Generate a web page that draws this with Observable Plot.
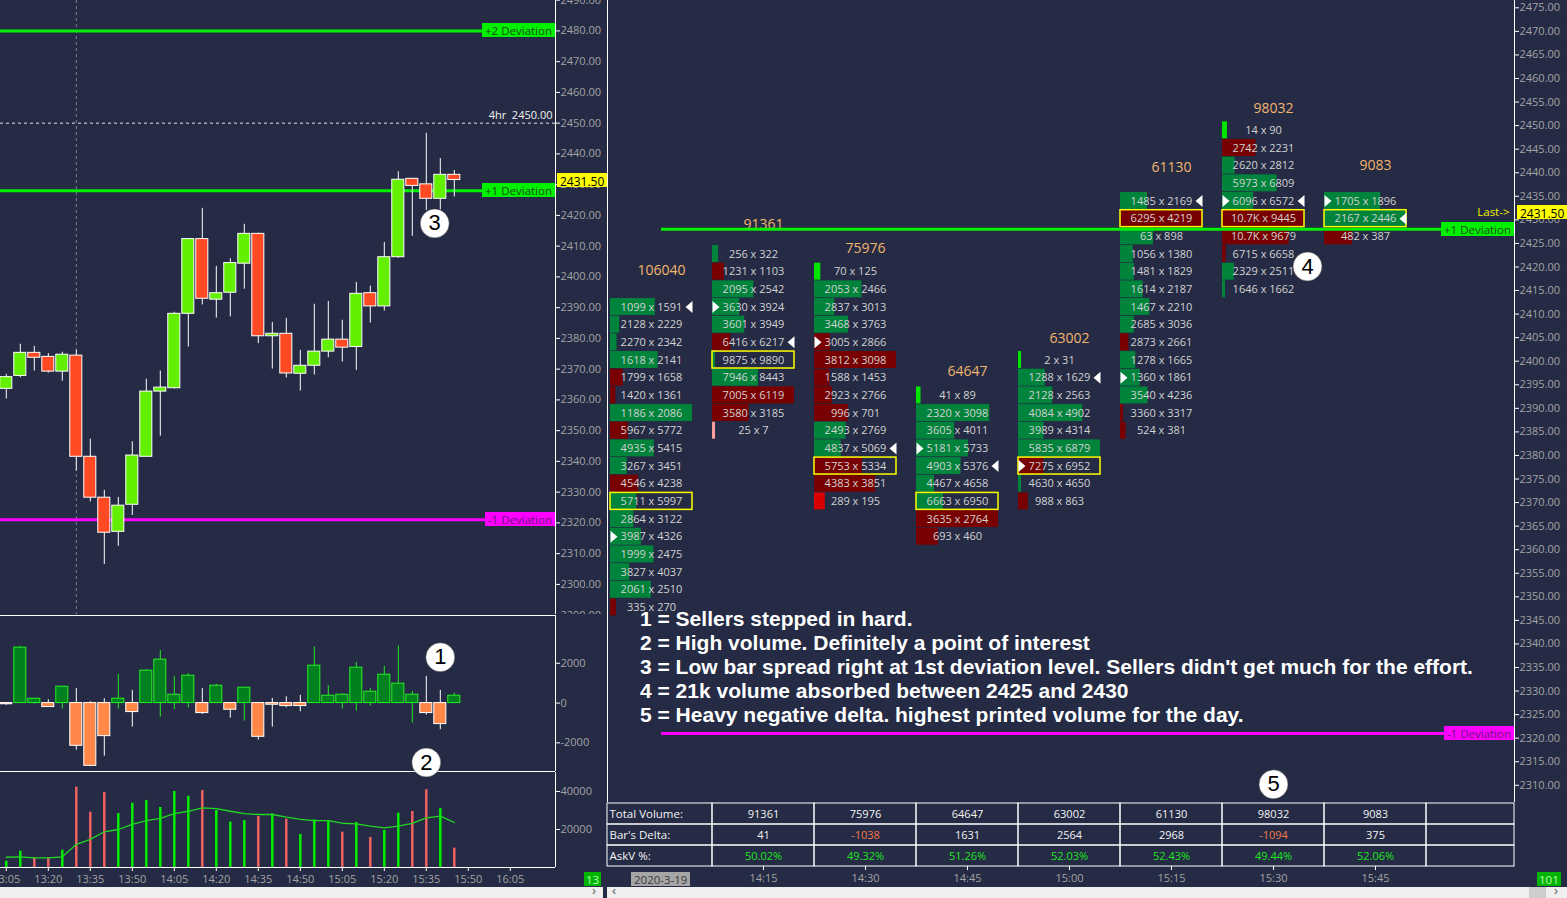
<!DOCTYPE html>
<html><head><meta charset="utf-8">
<script src="https://cdn.jsdelivr.net/npm/d3@7"></script>
<script src="https://cdn.jsdelivr.net/npm/@observablehq/plot@0.6"></script>
<style>
html,body{margin:0;padding:0;background:#252b45;overflow:hidden;}
#root{position:relative;width:1567px;height:898px;background:#252b45;overflow:hidden;font-family:"Open Sans","DejaVu Sans",sans-serif;}
#root svg{position:absolute;}
.notes{position:absolute;left:640px;top:607px;color:#fff;font:bold 21px "Liberation Sans",Arial,sans-serif;line-height:24px;white-space:pre;}
.strip{position:absolute;left:0;top:887px;width:1567px;height:11px;background:#efefef;}
</style></head>
<body><div id="root"></div>
<script>
// ---------------- DATA ----------------
// 5-minute candles (left panel)
const times = ["13:05","13:10","13:15","13:20","13:25","13:30","13:35","13:40","13:45","13:50","13:55","14:00","14:05","14:10","14:15","14:20","14:25","14:30","14:35","14:40","14:45","14:50","14:55","15:00","15:05","15:10","15:15","15:20","15:25","15:30","15:35","15:40","15:45"];
const opens  = [2363.6,2367.8,2375.3,2374.0,2369.2,2374.4,2341.5,2328.2,2317.1,2325.9,2341.5,2362.7,2363.8,2388.0,2412.3,2392.6,2394.85,2404.3,2414.0,2380.7,2381.5,2368.5,2371.1,2375.7,2379.6,2377.2,2394.7,2390.4,2406.4,2431.9,2430.1,2425.4,2433.2];
const highs  = [2368.3,2378.1,2377.4,2375.1,2375.5,2376.1,2347.2,2330.6,2328.3,2346.4,2366.7,2369.4,2388.5,2412.5,2422.3,2403.4,2405.9,2417.1,2414.2,2385.2,2386.5,2376.1,2391.1,2392.0,2385.9,2398.2,2397.0,2411.2,2434.2,2432.0,2446.7,2438.5,2434.6];
const lows   = [2360.3,2367.2,2369.4,2368.7,2366.1,2336.9,2326.8,2306.5,2312.4,2322.4,2341.5,2348.2,2363.5,2377.2,2390.9,2386.6,2387.0,2396.0,2378.3,2370.0,2367.1,2362.9,2368.1,2373.7,2372.3,2369.6,2385.0,2388.9,2406.1,2413.2,2421.6,2421.8,2426.0];
const closes = [2367.4,2375.3,2373.7,2369.2,2374.7,2341.5,2328.2,2316.8,2325.6,2341.9,2362.7,2364.0,2388.0,2412.3,2392.9,2394.7,2404.5,2414.0,2380.7,2381.5,2368.6,2371.1,2375.7,2379.6,2377.0,2394.5,2390.4,2406.4,2431.6,2429.6,2425.4,2433.2,2431.5];
// delta candles
const deltaClose = [-60,2787,218,-201,823,-2149,-3157,-1662,218,-453,1629,2183,420,1377,-504,873,-336,772,-1696,-84,-151,-151,1880,369,420,1780,571,1427,974,420,-504,-1058,369];
const deltaHigh  = [0,2854,218,168,823,739,67,218,1444,638,1679,2636,1343,1477,739,940,0,772,0,235,319,386,2821,873,470,2048,739,1847,2871,588,1343,638,504];
const deltaLow   = [-118,-34,-50,-201,-302,-2367,-3157,-2670,-302,-1209,0,-705,-336,-235,-571,0,-756,-907,-1864,-1209,-235,-437,0,0,-302,-403,-151,0,0,-1007,-604,-1343,0];
// volume + average
const volumes   = [3300,8600,5100,5100,9100,42300,29100,39500,28400,33800,35300,31600,40000,37500,40500,30000,23900,24700,26800,28200,25400,17400,25100,24400,18600,23700,15800,19500,28600,29500,41000,31000,10200];
const volumeAvg = [5400,5600,5100,5100,5600,12200,14800,18800,20000,22700,24700,25800,28400,29600,31400,31000,29600,28400,27900,27900,26500,25300,24700,24700,23300,23000,21800,20900,21800,23200,26100,27000,23700];

const sessionStart = "13:30";
const fourHourLevel = 2450;
const lastPrice = 2431.5;
const devLabels = ["+2 Deviation","+1 Deviation","-1 Deviation"];
const devPrices = [2480, 2428, 2321];

// 15-minute footprint (right panel)
const fpTimes   = ["14:00","14:15","14:30","14:45","15:00","15:15","15:30","15:45"];
const fpTotals  = [106040,91361,75976,64647,63002,61130,98032,9083];
const fpHighs   = [2415.0,2424.75,2419.7,2393.6,2400.6,2436.9,2449.4,2437.3];
const fpTopRow  = [2411.5,2422.75,2419,2392.75,2400.25,2434,2449,2434];
const fpRowStep = 3.75;
const fpRows = [
  [[1099,1591],[2128,2229],[2270,2342],[1618,2141],[1799,1658],[1420,1361],[1186,2086],[5967,5772],[4935,5415],[3267,3451],[4546,4238],[5711,5997],[2864,3122],[3987,4326],[1999,2475],[3827,4037],[2061,2510],[335,270]],
  [[256,322],[1231,1103],[2095,2542],[3630,3924],[3601,3949],[6416,6217],[9875,9890],[7946,8443],[7005,6119],[3580,3185],[25,7]],
  [[70,125],[2053,2466],[2837,3013],[3468,3763],[3005,2866],[3812,3098],[1588,1453],[2923,2766],[996,701],[2493,2769],[4837,5069],[5753,5334],[4383,3851],[289,195]],
  [[41,89],[2320,3098],[3605,4011],[5181,5733],[4903,5376],[4467,4658],[6663,6950],[3635,2764],[693,460]],
  [[2,31],[1288,1629],[2128,2563],[4084,4902],[3989,4314],[5835,6879],[7275,6952],[4630,4650],[988,863]],
  [[1485,2169],[6295,4219],[63,898],[1056,1380],[1481,1829],[1614,2187],[1467,2210],[2685,3036],[2873,2661],[1278,1665],[1360,1861],[3540,4236],[3360,3317],[524,381]],
  [[14,90],[2742,2231],[2620,2812],[5973,6809],[6096,6572],[10700,9445],[10700,9679],[6715,6658],[2329,2511],[1646,1662]],
  [[1705,1896],[2167,2446],[482,387]]
];
const fpPOC       = [11,6,11,6,6,1,5,1];
const fpMarkRight = [13,3,4,3,6,10,4,0];  // ▶ before the row
const fpMarkLeft  = [0,5,10,4,1,0,4,1];   // ◀ after the row

// table under the footprint
const tableLabels = ["Total Volume:","Bar's Delta:","AskV %:"];
const tableTimes  = ["14:15","14:30","14:45","15:00","15:15","15:30","15:45"];
const tableVolume = [91361,75976,64647,63002,61130,98032,9083];
const tableDelta  = [41,-1038,1631,2564,2968,-1094,375];
const tableAskPct = [50.02,49.32,51.26,52.03,52.43,49.44,52.06];
const sessionDate = "2020-3-19";

// numbered callouts
const annLabels = ["1","2","3","4","5"];
const annPanels = ["delta","delta","price","footprint","footprint"];
const annTimes  = ["15:40","15:35","15:38","15:35","15:30"];
const annValues = [2302,-2987,2417.4,2420.1,2310.2];

const notes = [
  "1 = Sellers stepped in hard.",
  "2 = High volume. Definitely a point of interest",
  "3 = Low bar spread right at 1st deviation level. Sellers didn't get much for the effort.",
  "4 = 21k volume absorbed between 2425 and 2430",
  "5 = Heavy negative delta. highest printed volume for the day."
];

// ---------------- STYLE ----------------
const FONT = "'Open Sans','DejaVu Sans',sans-serif";
const TXT = "#a3a3a3";
const UP = "#62f000", DOWN = "#ff4a24";
const devColors = ["#00f000","#00f000","#ff00ff"];
const devText = ["#1d4a1d","#1d4a1d","#6b1577"];
const root = document.getElementById("root");

const toMin = s => { const [h, m] = s.split(":").map(Number); return h * 60 + m; };
const fmtMin = m => `${Math.floor(m / 60)}:${String(m % 60).padStart(2, "0")}`;
const X_LEFT = [782.93, 981.14];
const X_RIGHT = [832.06, 965.44];

function mk(opts) {
  return Plot.plot({
    style: {background: "transparent", color: TXT, fontFamily: FONT, fontSize: "11px"},
    color: {type: "identity"},
    ...opts
  });
}
function place(svg, left, top) { svg.style.left = left + "px"; svg.style.top = top + "px"; root.appendChild(svg); return svg; }
function tag(text, x, yc, bg, fg, anchor, font) {
  const el = document.createElement("div");
  el.textContent = text;
  Object.assign(el.style, {position: "absolute", top: (yc - 7) + "px", height: "14px", lineHeight: "14px",
    padding: "0 3px", background: bg, color: fg, font: font || `11.5px ${FONT}`, whiteSpace: "nowrap"});
  if (anchor === "right") el.style.right = (1567 - x) + "px"; else el.style.left = x + "px";
  root.appendChild(el);
  return el;
}
const ann = annLabels.map((n, i) => ({n, panel: annPanels[i], t: toMin(annTimes[i]), v: annValues[i]}));
const annMarks = panel => [
  Plot.dot(ann.filter(d => d.panel === panel), {x: "t", y: "v", r: 14.5, fill: "white", stroke: "#333", strokeWidth: 0.5}),
  Plot.text(ann.filter(d => d.panel === panel), {x: "t", y: "v", text: "n", fill: "black", fontSize: 22, fontFamily: "'Liberation Sans',Arial"})
];

// ---------------- PRICE PANEL ----------------
const candles = times.map((t, i) => ({t: toMin(t), o: opens[i], h: highs[i], l: lows[i], c: closes[i], up: closes[i] >= opens[i]}));
const pricePlot = place(mk({
  width: 606, height: 614, marginLeft: 0, marginRight: 51, marginTop: 0, marginBottom: 0,
  x: {domain: X_LEFT, axis: null},
  y: {domain: [2290.21, 2489.89], label: null},
  marks: [
    Plot.ruleX([toMin(sessionStart)], {x: d => d, stroke: "#80848e", strokeDasharray: "3,3"}),
    Plot.ruleY([fourHourLevel], {y: d => d, stroke: "#e6e6e6", strokeDasharray: "3,3"}),
    Plot.text([fourHourLevel], {y: d => d, frameAnchor: "right", textAnchor: "end", dx: -3, dy: -8, text: d => `4hr  ${d.toFixed(2)}`, fill: "#f2f2f2", fontSize: 11}),
    ...devPrices.map((p, i) => Plot.ruleY([p], {y: d => d, stroke: devColors[i], strokeWidth: 3})),
    Plot.ruleX(candles, {x: "t", y1: "l", y2: "h", stroke: "white"}),
    Plot.rect(candles, {x1: d => d.t - 2.15, x2: d => d.t + 2.15, y1: "o", y2: "c", fill: d => d.up ? UP : DOWN, stroke: "white"}),
    Plot.axisY(d3.range(2290, 2491, 10), {anchor: "right", tickSize: 4, tickPadding: 1, tickFormat: d => d.toFixed(2), stroke: "white", fill: TXT, label: null}),
    Plot.ruleX([X_LEFT[1]], {x: d => d, stroke: "white"}),
    ...annMarks("price")
  ]
}), 0, 0);

// ---------------- DELTA PANEL ----------------
const deltas = times.map((t, i) => ({t: toMin(t), c: deltaClose[i], h: deltaHigh[i], l: deltaLow[i]}));
const DY = [-3441, 4403];
const deltaPlot = place(mk({
  width: 606, height: 158, marginLeft: 0, marginRight: 51, marginTop: 1, marginBottom: 1,
  x: {domain: X_LEFT, axis: null},
  y: {domain: DY, label: null},
  marks: [
    Plot.ruleY(DY, {y: d => d, stroke: "white"}),
    Plot.ruleX(deltas, {x: "t", y1: "l", y2: "h", stroke: d => d.c >= 0 ? "#22e822" : "white"}),
    Plot.rect(deltas, {x1: d => d.t - 2.15, x2: d => d.t + 2.15, y1: 0, y2: "c", fill: d => d.c >= 0 ? "#00801e" : "#ff8848", stroke: d => d.c >= 0 ? "#22f022" : "white"}),
    Plot.axisY([-2000, 0, 2000], {anchor: "right", tickSize: 4, tickPadding: 1, tickFormat: d => String(d), stroke: "white", fill: TXT, label: null}),
    Plot.ruleX([X_LEFT[1]], {x: d => d, stroke: "white"}),
    ...annMarks("delta")
  ]
}), 0, 614);

// ---------------- VOLUME PANEL ----------------
const vols = times.map((t, i) => ({t: toMin(t), v: volumes[i], avg: volumeAvg[i], up: closes[i] >= opens[i]}));
place(mk({
  width: 606, height: 119, marginLeft: 0, marginRight: 51, marginTop: 1, marginBottom: 23,
  x: {domain: X_LEFT, label: null},
  y: {domain: [0, 50000], label: null},
  marks: [
    Plot.ruleX(vols, {x: "t", y1: 0, y2: "v", stroke: d => d.up ? "#00ee00" : "#f06060", strokeWidth: 2.5}),
    Plot.line(vols, {x: "t", y: "avg", stroke: "#22d822", strokeWidth: 1.3}),
    Plot.ruleY([0], {y: d => d, stroke: "white"}),
    Plot.ruleX([X_LEFT[1]], {x: d => d, stroke: "white"}),
    Plot.axisY([20000, 40000], {anchor: "right", tickSize: 4, tickPadding: 1, tickFormat: d => String(d), stroke: "white", fill: TXT, label: null}),
    Plot.axisX(d3.range(785, 966, 15), {anchor: "bottom", tickSize: 4, tickPadding: 4, tickFormat: fmtMin, stroke: "white", fill: TXT, label: null})
  ]
}), 0, 771);
// the delta panel's callout straddles the separator, as in the reference
root.appendChild(deltaPlot);
deltaPlot.style.overflow = "visible";

// ---------------- FOOTPRINT PANEL ----------------
const cellW = 82 / 6.8;       // max cell length in minutes of x scale
const cells = [];
fpRows.forEach((rows, c) => {
  const t = toMin(fpTimes[c]);
  const maxD = d3.max(rows, r => Math.abs(r[1] - r[0]));
  rows.forEach((r, k) => {
    cells.push({t, left: t - 7.5, price: fpTopRow[c] - k * fpRowStep, bid: r[0], ask: r[1],
      frac: Math.abs(r[1] - r[0]) / maxD, poc: fpPOC[c] === k, mr: fpMarkRight[c] === k, ml: fpMarkLeft[c] === k});
  });
});
const fmtV = v => v >= 10000 ? (v / 1000).toFixed(1) + "K" : String(v);
function cellColor(d) {
  const tot = d.bid + d.ask;
  if (d.ask >= d.bid) return tot < 200 ? "#00e400" : "#00843c";
  if (tot < 100) return "#ff9c9c";
  if (tot < 500) return "#d80000";
  return "#780000";
}
const triR = {draw(ctx) { ctx.moveTo(0, -6); ctx.lineTo(7, 0); ctx.lineTo(0, 6); ctx.closePath(); }};
const triL = {draw(ctx) { ctx.moveTo(0, -6); ctx.lineTo(-7, 0); ctx.lineTo(0, 6); ctx.closePath(); }};
const cols = fpTimes.map((t, i) => ({t: toMin(t), total: fpTotals[i], high: fpHighs[i]}));
const fpPlot = place(mk({
  width: 961, height: 802, marginLeft: 1, marginRight: 53, marginTop: 0, marginBottom: 0,
  x: {domain: X_RIGHT, axis: null},
  y: {domain: [2306.35, 2476.55], label: null},
  marks: [
    Plot.ruleX(X_RIGHT, {x: d => d, stroke: "white"}),
    Plot.rect(cells, {x1: "left", x2: d => d.left + Math.max(d.frac * cellW, 0.45), y1: d => d.price - 1.8, y2: d => d.price + 1.8, fill: cellColor}),
    Plot.rect(cells.filter(d => d.poc), {x1: "left", x2: d => d.left + cellW, y1: d => d.price - 1.8, y2: d => d.price + 1.8, fill: "none", stroke: "#ffff00", strokeWidth: 1.5}),
    Plot.text(cells, {x: d => d.left + cellW / 2, y: "price", text: d => `${fmtV(d.bid)} x ${fmtV(d.ask)}`, fill: "#d2d2d2", fontSize: 11}),
    Plot.dot(cells.filter(d => d.mr), {x: "left", y: "price", symbol: triR, fill: "white"}),
    Plot.dot(cells.filter(d => d.ml), {x: d => d.left + cellW, y: "price", symbol: triL, fill: "white"}),
    Plot.text(cols, {x: "t", y: "high", text: d => String(d.total), dy: -20, fill: "#f2b56c", fontSize: 14}),
    ...devPrices.map((p, i) => Plot.ruleY([p], {y: d => d, x1: toMin(fpTimes[0]), x2: X_RIGHT[1], stroke: devColors[i], strokeWidth: 3})),
    Plot.text([lastPrice], {y: d => d, frameAnchor: "right", textAnchor: "end", dx: -5, text: () => "Last->", fill: "#f2f200", fontSize: 11.5}),
    Plot.axisY(d3.range(2310, 2476, 5), {anchor: "right", tickSize: 4, tickPadding: 1, tickFormat: d => d.toFixed(2), stroke: "white", fill: TXT, label: null}),
    ...annMarks("footprint")
  ]
}), 606, 0);

// ---------------- TABLE ----------------
const edges = [X_RIGHT[0], ...tableTimes.map(t => toMin(t) - 7.5), toMin(tableTimes[tableTimes.length - 1]) + 7.5, X_RIGHT[1]];
const grid = [];
tableLabels.forEach(row => { for (let i = 0; i < edges.length - 1; i++) grid.push({row, x1: edges[i], x2: edges[i + 1]}); });
const tcells = [];
tableTimes.forEach((t, i) => {
  const x = toMin(t);
  tcells.push({t: x, row: tableLabels[0], text: String(tableVolume[i]), fill: "#f4f4f4"});
  tcells.push({t: x, row: tableLabels[1], text: String(tableDelta[i]), fill: tableDelta[i] < 0 ? "#f4774a" : "#f4f4f4"});
  tcells.push({t: x, row: tableLabels[2], text: tableAskPct[i].toFixed(2) + "%", fill: "#1ee61e"});
});
const tablePlot = place(mk({
  width: 961, height: 88, marginLeft: 1, marginRight: 53, marginTop: 0, marginBottom: 24,
  x: {domain: X_RIGHT, label: null},
  y: {domain: tableLabels, padding: 0, axis: null},
  marks: [
    Plot.barX(grid, {x1: "x1", x2: "x2", y: "row", fill: "none", stroke: "white"}),
    Plot.text(tableLabels, {x: X_RIGHT[0], y: d => d, text: d => d, textAnchor: "start", dx: 2, fill: "#f4f4f4", fontSize: 11.5}),
    Plot.text(tcells, {x: "t", y: "row", text: "text", fill: "fill", fontSize: 11}),
    Plot.axisX(tableTimes.map(toMin), {anchor: "bottom", tickSize: 4, tickPadding: 4, tickFormat: fmtMin, stroke: "white", fill: TXT, label: null})
  ]
}), 606, 802);

// ---------------- TAGS / OVERLAYS ----------------
const yP = pricePlot.scale("y"), yF = fpPlot.scale("y"), xT = tablePlot.scale("x");
devPrices.forEach((p, i) => tag(devLabels[i], 555, yP.apply(p), devColors[i], devText[i], "right"));
devPrices.forEach((p, i) => { const y = yF.apply(p); if (y > 0 && y < 802) tag(devLabels[i], 1514, y, devColors[i], devText[i], "right"); });
tag(lastPrice.toFixed(2), 557, yP.apply(lastPrice), "#ffff00", "#000", "left", `12px ${FONT}`);
tag(lastPrice.toFixed(2), 1517, yF.apply(lastPrice), "#ffff00", "#000", "left", `12px ${FONT}`);
const dt = tag(sessionDate, 0, 879, "#a5a5a5", "#3a3a3a", "left", `11.5px ${FONT}`);
dt.style.left = (606 + xT.apply(toMin(fpTimes[0])) - 30) + "px";
tag("13", 584, 879, "#00b400", "#b8ffb8", "left", `11.5px ${FONT}`).style.padding = "0 2px";
tag("101", 1537, 879, "#00b400", "#b8ffb8", "left", `11.5px ${FONT}`).style.padding = "0 2px";

const nt = document.createElement("div");
nt.className = "notes";
nt.textContent = notes.join("\n");
root.appendChild(nt);

const strip = document.createElement("div");
strip.className = "strip";
strip.innerHTML = '<span style="position:absolute;left:592px;top:-3px;font:12px sans-serif;color:#555">›</span>' +
  '<span style="position:absolute;left:603px;top:0;width:4px;height:11px;background:#252b45"></span>' +
  '<span style="position:absolute;left:612px;top:-3px;font:12px sans-serif;color:#555">‹</span>' +
  '<span style="position:absolute;left:1529px;top:0;width:17px;height:11px;background:#cdcdcd"></span>' +
  '<span style="position:absolute;left:1554px;top:-3px;font:12px sans-serif;color:#555">›</span>';
root.appendChild(strip);
</script></body></html>
